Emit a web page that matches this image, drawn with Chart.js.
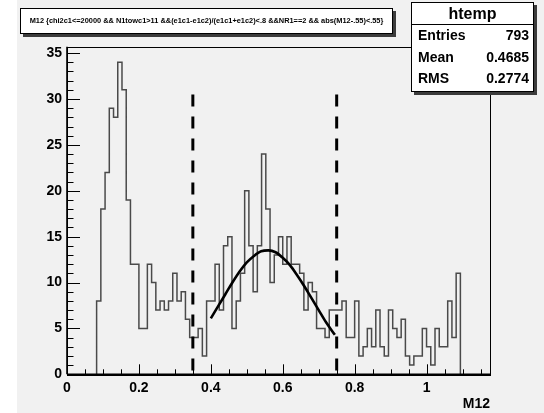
<!DOCTYPE html>
<html>
<head>
<meta charset="utf-8">
<script src="https://cdn.jsdelivr.net/npm/chart.js@4/dist/chart.umd.min.js"></script>
<style>
  html, body { margin: 0; padding: 0; background: #ffffff; }
  #wrap { position: relative; width: 544px; height: 413px; overflow: hidden; }
  #c { position: absolute; left: 0; top: 0; }
  .box { position: absolute; background: #ffffff; border: 1px solid #000; box-shadow: 3px 3px 0 #3c3c3c; font-family: "Liberation Sans", Arial, sans-serif; font-weight: bold; color: #000; }
  #title { left: 20px; top: 8px; width: 371px; height: 24px; font-size: 7.4px; line-height: 24px; text-align: center; white-space: nowrap; }
  #stats { left: 411px; top: 2px; width: 121px; height: 88px; }
  #stats .hd { height: 21px; line-height: 21px; text-align: center; font-size: 16px; border-bottom: 1px solid #000; }
  #stats .row { height: 21.5px; line-height: 21.5px; font-size: 14px; padding: 0 4px 0 6px; display: flex; justify-content: space-between; }
</style>
</head>
<body>
<div id="wrap">
  <canvas id="c" width="544" height="413"></canvas>
  <div class="box" id="title"></div>
  <div class="box" id="stats">
    <div class="hd" id="stName"></div>
    <div class="row"><span id="l0"></span><span id="v0"></span></div>
    <div class="row"><span id="l1"></span><span id="v1"></span></div>
    <div class="row"><span id="l2"></span><span id="v2"></span></div>
  </div>
</div>
<script>
// ---------------- data ----------------
const titleText = "M12 {chi2c1<=20000 && N1towc1>11 &&(e1c1-e1c2)/(e1c1+e1c2)<.8 &&NR1==2 && abs(M12-.55)<.55}";
const statsName = "htemp";
const statsLabels = ["Entries", "Mean", "RMS"];
const statsValues = ["793", "0.4685", "0.2774"];
const xAxisTitle = "M12";

// histogram binning: 100 bins on [0, 1.1764]; non-empty bins start at bin 7
const histXMin = 0;
const histXMax = 1.1764;
const histNBins = 100;
const firstFilledBin = 7;
// counts of bins 7 .. 92
const binCounts = [
  8, 18, 22, 29, 28, 34, 31, 19,
  12, 12, 5, 5, 12, 10, 7, 8, 7, 8,
  11, 8, 9, 6, 4, 4, 5, 2, 8, 8,
  12, 7, 14, 15, 5, 8, 11, 20, 14, 9,
  14, 24, 18, 10, 13, 15, 12, 15, 12, 12,
  11, 7, 10, 9, 5, 5, 4, 7, 7, 7,
  8, 4, 4, 8, 2, 3, 5, 3, 7, 3,
  2, 7, 5, 4, 6, 2, 1, 2, 2, 5,
  3, 1, 5, 3, 3, 8, 4, 11
];

// fitted curve, points
const fitX = [0.400, 0.420, 0.440, 0.460, 0.480, 0.500, 0.520, 0.540, 0.560, 0.580, 0.600, 0.620, 0.640, 0.660, 0.680, 0.700, 0.720, 0.745];
const fitY = [6.1, 7.4, 8.7, 10.0, 11.2, 12.2, 12.9, 13.4, 13.5, 13.3, 12.7, 11.9, 10.8, 9.6, 8.3, 7.0, 5.7, 4.3];

// dashed cut lines
const cutX = [0.35, 0.75];
const cutTop = 30.5;

// axes
const xTicks = [0, 0.2, 0.4, 0.6, 0.8, 1];
const xTickLabels = ["0", "0.2", "0.4", "0.6", "0.8", "1"];
const xMinorStep = 0.05;
const yTicks = [0, 5, 10, 15, 20, 25, 30, 35];
const yMinorStep = 1;
const yMax = 35.7;

// ---------------- html text ----------------
document.getElementById('title').textContent = titleText;
document.getElementById('stName').textContent = statsName;
statsLabels.forEach((l, i) => {
  document.getElementById('l' + i).textContent = l;
  document.getElementById('v' + i).textContent = statsValues[i];
});

// ---------------- build datasets ----------------
const binW = (histXMax - histXMin) / histNBins;
const histPts = [{x: histXMin + firstFilledBin * binW, y: 0}];
binCounts.forEach((c, i) => histPts.push({x: histXMin + (firstFilledBin + i) * binW, y: c}));
histPts.push({x: histXMin + (firstFilledBin + binCounts.length) * binW, y: 0});

const fitPts = fitX.map((x, i) => ({x: x, y: fitY[i]}));

const FONT = '"Liberation Sans", Arial, sans-serif';

const framePlugin = {
  id: 'rootFrame',
  beforeDraw(chart) {
    const ctx = chart.ctx;
    ctx.save();
    ctx.fillStyle = '#ffffff';
    ctx.fillRect(0, 0, chart.width, chart.height);
    ctx.fillStyle = '#f1f1f1';
    ctx.fillRect(17, 0, chart.width - 17, chart.height);
    ctx.restore();
  },
  beforeDatasetsDraw(chart) {
    const {ctx, chartArea: a, scales} = chart;
    const xs = scales.x, ys = scales.y;
    ctx.save();
    ctx.strokeStyle = '#000';
    ctx.lineWidth = 1;
    ctx.beginPath();
    // x ticks (inside, pointing up)
    for (let v = 0; v <= histXMax + 1e-9; v += xMinorStep) {
      const vv = Math.round(v * 1000) / 1000;
      const px = Math.round(xs.getPixelForValue(vv)) + 0.5;
      const major = xTicks.some(t => Math.abs(t - vv) < 1e-6);
      const len = major ? 10 : 5;
      ctx.moveTo(px, a.bottom);
      ctx.lineTo(px, a.bottom - len);
    }
    // y ticks (inside, pointing right)
    for (let v = 0; v <= yMax + 1e-9; v += yMinorStep) {
      const py = Math.round(ys.getPixelForValue(v)) + 0.5;
      const major = yTicks.includes(v);
      const len = major ? 13 : 6.5;
      ctx.moveTo(a.left, py);
      ctx.lineTo(a.left + len, py);
    }
    ctx.stroke();
    ctx.restore();
  },
  afterDatasetsDraw(chart) {
    const {ctx, chartArea: a} = chart;
    ctx.save();
    ctx.strokeStyle = '#000';
    ctx.lineWidth = 1;
    ctx.strokeRect(Math.round(a.left) + 0.5, Math.round(a.top) + 0.5, Math.round(a.right - a.left), Math.round(a.bottom - a.top));
    ctx.lineWidth = 1.6;
    ctx.beginPath();
    ctx.moveTo(a.left, a.bottom);
    ctx.lineTo(a.right, a.bottom);
    ctx.moveTo(a.left, a.top);
    ctx.lineTo(a.left, a.bottom);
    ctx.stroke();
    ctx.restore();
  }
};

const datasets = [
  {
    label: 'htemp',
    data: histPts,
    stepped: true,
    borderColor: '#4a4a4a',
    borderWidth: 1.5,
    pointRadius: 0,
    fill: false,
    order: 3
  },
  {
    label: 'fit',
    data: fitPts,
    borderColor: '#000000',
    borderWidth: 2.6,
    pointRadius: 0,
    tension: 0.4,
    cubicInterpolationMode: 'monotone',
    fill: false,
    order: 2
  }
];
cutX.forEach((cx, i) => datasets.push({
  label: 'cut' + i,
  data: [{x: cx, y: cutTop}, {x: cx, y: 0}],
  borderColor: '#000000',
  borderWidth: 3,
  borderDash: [12, 10],
  borderCapStyle: 'butt',
  pointRadius: 0,
  fill: false,
  order: 1
}));

new Chart(document.getElementById('c'), {
  type: 'line',
  data: { datasets },
  plugins: [framePlugin],
  options: {
    responsive: false,
    animation: false,
    devicePixelRatio: 1,
    layout: { padding: { left: 0, top: 46.7, right: 54, bottom: 0 } },
    plugins: { legend: { display: false }, tooltip: { enabled: false } },
    scales: {
      x: {
        type: 'linear',
        min: histXMin,
        max: histXMax,
        grid: { display: false, drawTicks: false },
        border: { display: false },
        afterBuildTicks: s => { s.ticks = xTicks.map(v => ({value: v})); },
        afterFit: s => { s.height = 38.7; },
        ticks: {
          autoSkip: false,
          maxRotation: 0,
          padding: 5.5,
          color: '#000',
          font: { family: FONT, size: 14, weight: 'bold' },
          callback: (v) => { const i = xTicks.findIndex(t => Math.abs(t - v) < 1e-9); return i >= 0 ? xTickLabels[i] : ''; }
        },
        title: {
          display: true,
          text: xAxisTitle,
          align: 'end',
          color: '#000',
          font: { family: FONT, size: 14, weight: 'bold' },
          padding: { top: 0, bottom: 0.6 }
        }
      },
      y: {
        type: 'linear',
        min: 0,
        max: yMax,
        grid: { display: false, drawTicks: false },
        border: { display: false },
        afterBuildTicks: s => { s.ticks = yTicks.map(v => ({value: v})); },
        afterFit: s => { s.width = 67; },
        ticks: {
          autoSkip: false,
          padding: 5,
          color: '#000',
          font: { family: FONT, size: 14, weight: 'bold' },
          callback: v => String(v)
        }
      }
    }
  }
});
</script>
</body>
</html>
